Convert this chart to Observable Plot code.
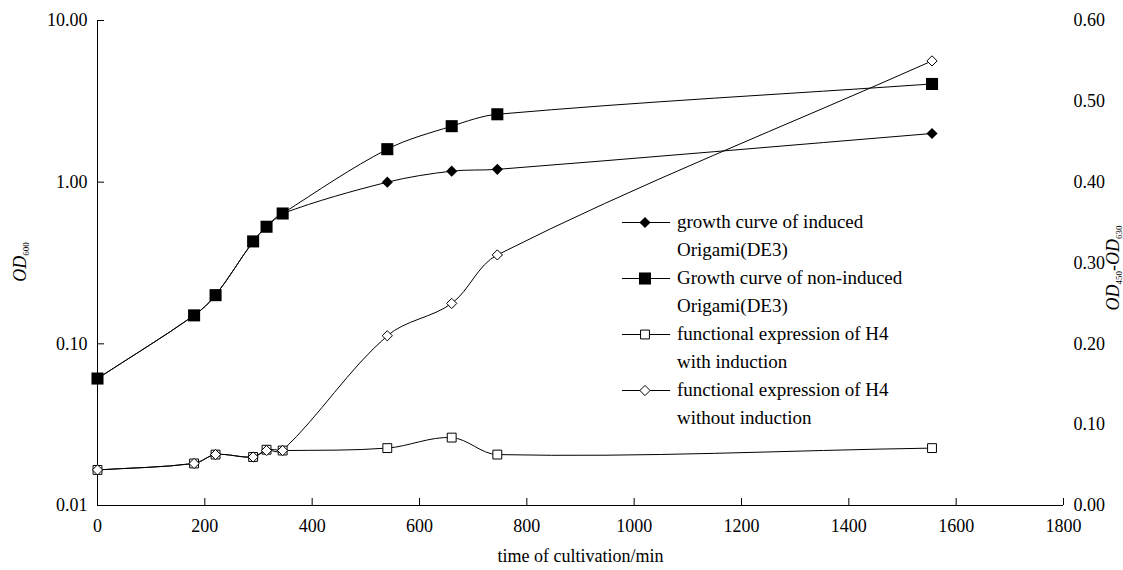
<!DOCTYPE html>
<html><head><meta charset="utf-8">
<script src="https://cdn.jsdelivr.net/npm/d3@7"></script>
<script src="https://cdn.jsdelivr.net/npm/@observablehq/plot@0.6"></script>
<style>
body{margin:0;background:#fff;}
#wrap{position:relative;width:1123px;height:570px;font-family:"Liberation Serif","Times New Roman",serif;color:#000;overflow:hidden;}
#legend{position:absolute;left:620px;top:208px;font-size:19px;line-height:28px;}
.entry{position:relative;padding-left:57px;}
.entry svg{position:absolute;left:0;top:0;}
.ylab{position:absolute;font-size:18px;line-height:16px;white-space:nowrap;transform-origin:center center;}
.ylab sub{font-size:9px;line-height:0;vertical-align:-3px;}
</style></head><body><div id="wrap"></div>
<script>
// ---- data ----
const times = [0, 180, 220, 290, 315, 345, 540, 660, 745, 1555];
const inducedGrowth = [0.061, 0.15, 0.20, 0.43, 0.53, 0.64, 1.00, 1.17, 1.20, 2.00];
const nonInducedGrowth = [0.061, 0.15, 0.20, 0.43, 0.53, 0.64, 1.60, 2.22, 2.63, 4.05];
const exprWithInduction = [0.044, 0.052, 0.063, 0.060, 0.069, 0.068, 0.071, 0.084, 0.063, 0.071];
const exprWithoutInduction = [0.044, 0.052, 0.063, 0.060, 0.068, 0.068, 0.21, 0.25, 0.31, 0.55];
const xTicks = [0, 200, 400, 600, 800, 1000, 1200, 1400, 1600, 1800];
const leftTicks = [0.01, 0.1, 1, 10];
const rightTicks = [0, 0.1, 0.2, 0.3, 0.4, 0.5, 0.6];
const seriesNames = [
  "growth curve of induced<br>Origami(DE3)",
  "Growth curve of non-induced<br>Origami(DE3)",
  "functional expression of H4<br>with induction",
  "functional expression of H4<br>without induction"
];
const xTitle = "time of cultivation/min";

// secondary axis (0 .. 0.6 linear) mapped onto primary log axis (0.01 .. 10)
const toLeft = v => Math.pow(10, v * 5 - 2);
const fromLeft = d => (Math.log10(d) + 2) / 5;

const rows = times.map((t, i) => ({
  t,
  a: inducedGrowth[i],
  b: nonInducedGrowth[i],
  c: toLeft(exprWithInduction[i]),
  d: toLeft(exprWithoutInduction[i])
}));

// spreadsheet-style smoothed line: tangent along neighbour chord, handle length ~ segment length / 3
function smoothCurve(context) {
  let pts = [];
  return {
    areaStart() {}, areaEnd() {},
    lineStart() { pts = []; },
    point(x, y) { pts.push([+x, +y]); },
    lineEnd() {
      const n = pts.length;
      if (!n) return;
      context.moveTo(pts[0][0], pts[0][1]);
      if (n === 1) return;
      const tan = pts.map((p, i) => {
        const a = pts[Math.max(0, i - 1)], b = pts[Math.min(n - 1, i + 1)];
        const dx = b[0] - a[0], dy = b[1] - a[1];
        const len = Math.hypot(dx, dy) || 1;
        return [dx / len, dy / len];
      });
      for (let i = 0; i < n - 1; i++) {
        const p0 = pts[i], p1 = pts[i + 1];
        const h = Math.hypot(p1[0] - p0[0], p1[1] - p0[1]) / 3;
        context.bezierCurveTo(
          p0[0] + tan[i][0] * h, p0[1] + tan[i][1] * h,
          p1[0] - tan[i + 1][0] * h, p1[1] - tan[i + 1][1] * h,
          p1[0], p1[1]);
      }
    }
  };
}

const lineOpts = {curve: smoothCurve, stroke: "black", strokeWidth: 1};

const chart = Plot.plot({
  width: 1123, height: 570,
  marginLeft: 97, marginRight: 60, marginTop: 20, marginBottom: 65,
  style: {fontFamily: "Liberation Serif, Times New Roman, serif", fontSize: "18px", background: "white", color: "black"},
  x: {domain: [0, 1800]},
  y: {type: "log", domain: [0.01, 10]},
  marks: [
    Plot.ruleX([0], {stroke: "black"}),
    Plot.ruleY([0.01], {stroke: "black"}),
    Plot.axisX({ticks: xTicks, tickSize: -7, tickPadding: 21, tickFormat: d => String(d), label: null}),
    Plot.axisY({anchor: "left", ticks: leftTicks, tickSize: -7, tickPadding: 17, tickFormat: d => d.toFixed(2), label: null}),
    Plot.axisY({anchor: "right", ticks: rightTicks.map(toLeft), tickSize: 0, tickPadding: 10, tickFormat: d => fromLeft(d).toFixed(2), label: null}),
    Plot.line(rows, {x: "t", y: "a", ...lineOpts}),
    Plot.line(rows, {x: "t", y: "b", ...lineOpts}),
    Plot.line(rows, {x: "t", y: "c", ...lineOpts}),
    Plot.line(rows, {x: "t", y: "d", ...lineOpts}),
    Plot.dot(rows, {x: "t", y: "a", symbol: "diamond2", r: 5, fill: "black", stroke: "none"}),
    Plot.dot(rows, {x: "t", y: "b", symbol: "square", r: 6.8, fill: "black", stroke: "none"}),
    Plot.dot(rows, {x: "t", y: "c", symbol: "square", r: 5, fill: "white", stroke: "black", strokeWidth: 1}),
    Plot.dot(rows, {x: "t", y: "d", symbol: "diamond2", r: 4.6, fill: "white", stroke: "black", strokeWidth: 1}),
    Plot.text([xTitle], {frameAnchor: "bottom", dy: 56, text: d => d, fontSize: 18})
  ]
});
const wrap = document.getElementById("wrap");
wrap.appendChild(chart);

// legend
const legend = document.createElement("div");
legend.id = "legend";
const symDefs = [
  {type: d3.symbolDiamond2, r: 5, fill: "black"},
  {type: d3.symbolSquare, r: 6.8, fill: "black"},
  {type: d3.symbolSquare, r: 5, fill: "white"},
  {type: d3.symbolDiamond2, r: 4.6, fill: "white"}
];
seriesNames.forEach((name, i) => {
  const e = document.createElement("div");
  e.className = "entry";
  const s = symDefs[i];
  const p = d3.symbol(s.type, Math.PI * s.r * s.r)();
  e.innerHTML = `<svg width="56" height="28"><line x1="2" x2="50" y1="14.5" y2="14.5" stroke="black"/><path transform="translate(25,14.5)" d="${p}" fill="${s.fill}" stroke="${s.fill === 'white' ? 'black' : 'none'}"/></svg><span>${name}</span>`;
  legend.appendChild(e);
});
wrap.appendChild(legend);

// axis titles
const l = document.createElement("div");
l.className = "ylab";
l.innerHTML = "<i>OD</i><sub>600</sub>";
wrap.appendChild(l);
const r = document.createElement("div");
r.className = "ylab";
r.innerHTML = "<i>OD</i><sub>450</sub>-<i>OD</i><sub>630</sub>";
wrap.appendChild(r);
function place(el, cx, cy) {
  const w = el.offsetWidth, h = el.offsetHeight;
  el.style.left = (cx - w / 2) + "px";
  el.style.top = (cy - h / 2) + "px";
  el.style.transform = "rotate(-90deg)";
}
place(l, 20, 262);
place(r, 1112, 268);
</script>
</body></html>
